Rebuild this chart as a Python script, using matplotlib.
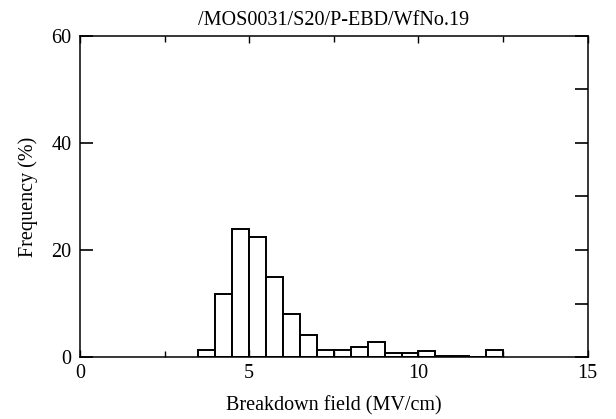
import numpy as np
import matplotlib
matplotlib.use("Agg")
import matplotlib.pyplot as plt
from matplotlib.ticker import MultipleLocator

plt.rcParams['font.family'] = ['Liberation Serif', 'DejaVu Serif']

# histogram data: left bin edges (MV/cm) and frequency (%)
bin_left = [3.5, 4.0, 4.5, 5.0, 5.5, 6.0, 6.5, 7.0, 7.5, 8.0, 8.5, 9.0, 9.5, 10.0, 10.5, 11.0, 11.5, 12.0]
freq = [1.3, 11.8, 24.0, 22.4, 15.0, 8.1, 4.1, 1.3, 1.4, 1.9, 2.8, 0.8, 0.8, 1.1, 0.3, 0.3, 0.0, 1.4]
bin_width = 0.5

title = '/MOS0031/S20/P-EBD/WfNo.19'
xlabel = 'Breakdown field (MV/cm)'
ylabel = 'Frequency (%)'

fig = plt.figure(figsize=(6.16, 4.19), dpi=100)
ax = fig.add_axes([0.1299, 0.1473, 0.954 - 0.1299, 0.9148 - 0.1473])

ax.bar(bin_left, freq, width=bin_width, align='edge', facecolor='white',
       edgecolor='black', linewidth=1.4)

ax.set_xlim(0, 15)
ax.set_ylim(0, 60)
ax.xaxis.set_major_locator(MultipleLocator(5))
ax.xaxis.set_minor_locator(MultipleLocator(2.5))
ax.yaxis.set_major_locator(MultipleLocator(20))
ax.yaxis.set_minor_locator(MultipleLocator(10))

fs = 14.5
ax.tick_params(axis='x', which='both', direction='in', top=True, bottom=True,
               labelsize=fs, pad=5, width=1)
ax.tick_params(axis='x', which='major', length=5)
ax.tick_params(axis='x', which='minor', length=4)
ax.tick_params(axis='y', which='major', direction='in', left=True, right=True,
               length=9.5, width=1.2, labelsize=fs, pad=6)
ax.tick_params(axis='y', which='minor', direction='in', left=False, right=True,
               length=9.5, width=1.2)

for s in ax.spines.values():
    s.set_linewidth(1.1)

ax.set_title(title, fontsize=fs, pad=8)
ax.set_xlabel(xlabel, fontsize=fs, labelpad=9)
ax.set_ylabel(ylabel, fontsize=fs, labelpad=10)

fig.savefig('out.png', dpi=100)
